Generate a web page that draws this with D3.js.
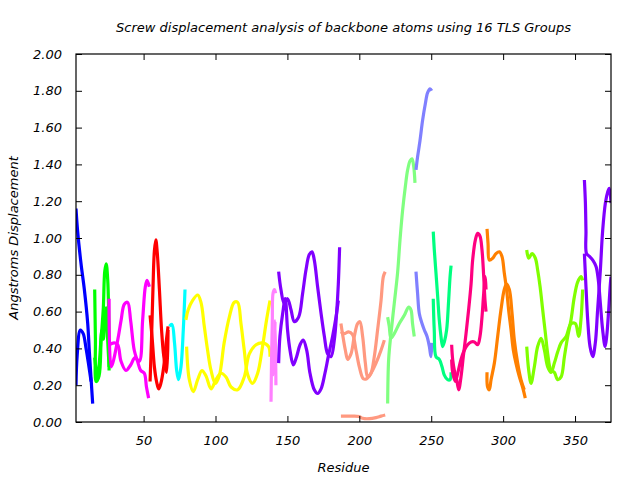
<!DOCTYPE html>
<head>
  <meta charset="utf-8">
  <script src="https://d3js.org/d3.v7.min.js"></script>
  <style>
    body { margin:0; background:#fff; }
    text { font-family: "DejaVu Sans", sans-serif; font-style: italic; font-size: 13px; fill: #000; }
  </style>
</head>
<body>
  <div class="chart"></div>
  <script>
    // chart texts and tick values
    const title = 'Screw displacement analysis of backbone atoms using 16 TLS Groups';
    const xLabel = 'Residue';
    const yLabel = 'Angstroms Displacement';
    const xTicks = [50, 100, 150, 200, 250, 300, 350];
    const yTicks = [0, 0.2, 0.4, 0.6, 0.8, 1.0, 1.2, 1.4, 1.6, 1.8, 2.0];

    // one colour per TLS group
    const groupColors = ['#0000ff', '#00ff00', '#ff00ff', '#ff0000', '#00ffff', '#ffff00', '#ff80ff', '#8000ff',
                         '#ff9980', '#80ff80', '#8080ff', '#00ff80', '#ff0080', '#ff8000', '#80ff00', '#8000ff'];

    // [residue, displacement], two or three curves per group
    const g1a = [[3,1.16],[4.1,1.04],[6.5,0.86],[8.8,0.72],[11.1,0.54],[12.3,0.38],[14.6,0.10]];
    const g1b = [[3,0.20],[3.8,0.36],[6,0.50],[8,0.48],[10,0.40],[12,0.30],[13.5,0.22]];
    const g2a = [[16,0.72],[16.5,0.45],[17,0.22],[19,0.25],[20.5,0.45],[22,0.62],[23,0.82],[24,0.86],[25,0.78],[25.7,0.60],[26,0.28]];
    const g2b = [[16,0.35],[18,0.24],[19.5,0.35],[21,0.50],[22,0.45],[23,0.55],[24,0.62],[25,0.45],[26,0.30]];
    const g3a = [[26,0.67],[27.5,0.30],[32,0.445],[34.3,0.55],[36.6,0.64],[38.9,0.65],[41,0.55],[43.5,0.39],[45.8,0.33],[48,0.28],[50.5,0.265],[52,0.19],[53.5,0.13]];
    const g3b = [[26,0.42],[29.6,0.43],[32,0.42],[34.3,0.33],[37.7,0.28],[41,0.31],[44,0.35],[47,0.33],[49.3,0.55],[51.2,0.735],[52.4,0.77],[54,0.735]];
    const g4a = [[54.5,0.22],[55.5,0.45],[56.5,0.72],[57.5,0.93],[58.5,0.99],[59.5,0.92],[61,0.72],[62.5,0.50],[64,0.36],[66,0.27],[67,0.50]];
    const g4b = [[54.5,0.58],[56,0.45],[57.5,0.30],[59,0.22],[60.5,0.18],[62,0.21],[64,0.30],[65.5,0.42],[67,0.52]];
    const g5a = [[68,0.52],[69.7,0.53],[71.5,0.43],[73,0.28],[74.3,0.23],[76,0.30],[77.6,0.50],[78.8,0.72]];
    const g6a = [[79.4,0.555],[81,0.61],[84,0.66],[87.6,0.69],[89.9,0.65],[92.2,0.52],[94.5,0.39],[96.9,0.28],[99.9,0.21],[102.6,0.25],[106,0.43],[109.6,0.57],[113,0.65],[115.4,0.65],[117.7,0.535],[120,0.39],[122.3,0.26],[125.8,0.21],[129.3,0.265],[132.7,0.41],[135.5,0.555],[137.9,0.66]];
    const g6b = [[79.9,0.41],[81.8,0.23],[84.6,0.165],[87.6,0.23],[90.6,0.28],[93.4,0.25],[96.9,0.18],[100.3,0.23],[103.8,0.265],[107.3,0.245],[110.8,0.19],[115.4,0.175],[120,0.245],[123.5,0.37],[128.2,0.42],[132.7,0.43],[136.9,0.41],[137.9,0.355]];
    const g7a = [[138.6,0.11],[139,0.35],[139.5,0.55],[140,0.70],[141,0.72],[141.8,0.70]];
    const g7b = [[139.5,0.25],[140.5,0.30],[141.5,0.55],[142,0.20]];
    const g8a = [[143.9,0.817],[145.5,0.72],[147.8,0.645],[150.1,0.67],[152.5,0.61],[154.8,0.545],[157.8,0.57],[160.6,0.70],[162.9,0.826],[165.2,0.91],[167.1,0.925],[168.7,0.88],[171,0.735],[173.4,0.59],[175.7,0.465],[178,0.37],[180.3,0.355],[182.6,0.445],[184.2,0.59],[185.4,0.75],[186.3,0.95]];
    const g8b = [[143.9,0.32],[144.8,0.465],[146.7,0.59],[148.5,0.67],[150.1,0.50],[151.8,0.39],[154.1,0.31],[156.4,0.355],[158.8,0.42],[161,0.445],[163.4,0.39],[165.7,0.265],[168.7,0.175],[171,0.155],[173.4,0.18],[176.1,0.265],[178.4,0.355],[181.4,0.465],[183.8,0.57],[185.4,0.66]];
    const g9a = [[187.2,0.535],[188.3,0.48],[190.3,0.39],[191.9,0.34],[194.2,0.37],[196.5,0.465],[198.8,0.535],[200.4,0.545],[202.3,0.465],[204.2,0.32],[205.8,0.245],[208.1,0.265],[210.4,0.355],[212.7,0.50],[215.1,0.66],[216.7,0.79],[218,0.817]];
    const g9b = [[187.2,0.49],[189.5,0.48],[192.5,0.49],[195.3,0.475],[197.7,0.39],[200,0.30],[202.8,0.235],[205.1,0.235],[208.1,0.265],[211.6,0.32],[215.1,0.39],[217.4,0.445]];
    const g9c = [[187.2,0.032],[194.2,0.032],[200,0.03],[202.3,0.02],[207,0.018],[211.6,0.024],[215.1,0.032],[218,0.038]];
    const g10a = [[219.7,0.10],[220.4,0.34],[222,0.48],[224.3,0.645],[226.6,0.81],[228.3,0.99],[230.1,1.15],[232,1.28],[233.6,1.37],[235.3,1.42],[236.6,1.43],[237.8,1.39],[238.7,1.30]];
    const g10b = [[219.7,0.57],[220.8,0.52],[222,0.455],[224.3,0.48],[227.8,0.535],[231.3,0.58],[234.3,0.625],[235.9,0.61],[237,0.535],[238.2,0.465]];
    const g11a = [[239.4,1.37],[240.5,1.44],[242.2,1.53],[244,1.64],[245.9,1.73],[247.5,1.79],[249.2,1.81],[250.3,1.80]];
    const g11b = [[239.4,0.817],[240.5,0.70],[241.7,0.59],[243.6,0.535],[245.2,0.50],[247.1,0.465],[248.7,0.41],[249.8,0.355],[250.5,0.43]];
    const g12a = [[251.4,1.035],[252.1,0.94],[253.3,0.81],[254.5,0.68],[255.6,0.555],[256.8,0.465],[257.9,0.41],[259.1,0.435],[260.7,0.50],[262.1,0.66],[263.1,0.79],[263.8,0.85]];
    const g12b = [[251.4,0.67],[252.1,0.50],[253.3,0.355],[255.6,0.34],[257.5,0.30],[259.1,0.255],[261.4,0.23],[263.1,0.23],[263.8,0.27]];
    const g13a = [[264.2,0.42],[264.9,0.34],[266.1,0.28],[267.7,0.23],[269.1,0.175],[270.7,0.245],[272.3,0.355],[274.2,0.48],[276,0.61],[277.7,0.75],[278.8,0.88],[280.7,0.99],[282.3,1.025],[283.9,1.01],[285.3,0.935],[286.5,0.79],[287.4,0.66],[288.1,0.60]];
    const g13b = [[264.2,0.34],[264.9,0.27],[266.7,0.22],[268.4,0.265],[270.7,0.34],[273,0.39],[275.3,0.42],[277.7,0.435],[280,0.435],[282.3,0.42],[283.9,0.465],[285.3,0.57],[286.5,0.70],[287.6,0.79],[288.1,0.72]];
    const g14a = [[288.8,1.05],[289.5,0.97],[290.4,0.88],[292.7,0.89],[295,0.915],[297.4,0.925],[299.2,0.90],[300.8,0.81],[302.4,0.72],[303.8,0.61],[305.5,0.50],[307.1,0.39],[308.9,0.32],[311.3,0.245],[313.5,0.19],[315.4,0.13]];
    const g14b = [[288.8,0.27],[289.2,0.19],[290.4,0.175],[291.6,0.23],[293.9,0.32],[296.2,0.465],[298.5,0.61],[300.8,0.72],[302.4,0.75],[304.3,0.72],[306.2,0.59],[307.8,0.445],[310.1,0.32],[312.4,0.23],[314.7,0.175]];
    const g15a = [[316.4,0.935],[317.8,0.89],[320.1,0.915],[322.4,0.89],[324,0.826],[325.7,0.735],[327.5,0.61],[329.4,0.48],[331,0.37],[333.3,0.28],[335.6,0.27],[337.9,0.23],[340.3,0.245],[342.6,0.355],[344.9,0.465],[347.2,0.555],[349.5,0.68],[351.8,0.76],[354.1,0.79],[355.3,0.77]];
    const g15b = [[316.4,0.41],[317.8,0.28],[319.4,0.21],[321.7,0.30],[324,0.41],[326.4,0.455],[328.7,0.39],[331,0.30],[333.3,0.27],[335.6,0.32],[337.9,0.38],[340.3,0.43],[343.8,0.465],[347.2,0.535],[350.2,0.535],[352.5,0.465],[354.1,0.555],[355.3,0.72]];
    const g16a = [[356.5,1.315],[357.2,1.19],[357.6,1.04],[358,0.915],[360,0.90],[362.3,0.88],[364.6,0.845],[366.2,0.77],[367.6,0.645],[369.2,0.50],[370.9,0.41],[372,0.465],[373.4,0.61],[374.4,0.735],[375,0.79]];
    const g16b = [[356.5,0.915],[357.6,0.735],[358.8,0.555],[360.4,0.41],[362.3,0.355],[364.1,0.43],[365.7,0.61],[367.6,0.826],[369.2,1.04],[371.1,1.19],[372.7,1.25],[373.8,1.27],[375,1.19]];

    const groups = [
      [g1a, g1b], [g2a, g2b], [g3a, g3b], [g4a, g4b], [g5a], [g6a, g6b], [g7a, g7b], [g8a, g8b],
      [g9a, g9b, g9c], [g10a, g10b], [g11a, g11b], [g12a, g12b], [g13a, g13b], [g14a, g14b], [g15a, g15b], [g16a, g16b]
    ];

    const width = 640, height = 480;
    const margin = { top: 54, right: 29, bottom: 58, left: 76 };
    const innerW = width - margin.left - margin.right;
    const innerH = height - margin.top - margin.bottom;

    const svg = d3.select('.chart')
      .append('svg')
        .attr('width', width)
        .attr('height', height);

    const xScale = d3.scaleLinear().domain([3, 375]).range([0, innerW]);
    const yScale = d3.scaleLinear().domain([0, 2]).range([innerH, 0]);

    const g = svg.append('g')
      .attr('transform', `translate(${margin.left},${margin.top})`);

    g.append('clipPath').attr('id', 'plot-clip')
      .append('rect').attr('width', innerW).attr('height', innerH);

    const line = d3.line()
      .x(d => xScale(d[0]))
      .y(d => yScale(d[1]))
      .curve(d3.curveCatmullRom.alpha(0.5));

    const plot = g.append('g').attr('clip-path', 'url(#plot-clip)');
    groups.forEach((curves, i) => {
      plot.selectAll(null)
        .data(curves)
        .enter()
        .append('path')
          .attr('d', line)
          .style('fill', 'none')
          .style('stroke', groupColors[i])
          .style('stroke-width', 3.2)
          .style('stroke-linejoin', 'round');
    });

    // axes with inward ticks, mirrored on top and right
    const fmt = d3.format('.2f');
    const axisStyle = a => {
      a.select('.domain').remove();
      a.selectAll('line').attr('stroke', '#000');
      a.selectAll('text').style('font-family', '"DejaVu Sans", sans-serif').style('font-size', '13px').style('font-style', 'italic');
    };

    g.append('g')
      .attr('transform', `translate(0,${innerH})`)
      .call(d3.axisBottom(xScale).tickValues(xTicks).tickSizeInner(-6).tickPadding(14))
      .call(axisStyle);
    g.append('g')
      .call(d3.axisTop(xScale).tickValues(xTicks).tickSizeInner(-6).tickFormat(''))
      .call(axisStyle);
    g.append('g')
      .call(d3.axisLeft(yScale).tickValues(yTicks).tickSizeInner(-6).tickPadding(14).tickFormat(fmt))
      .call(axisStyle);
    g.append('g')
      .attr('transform', `translate(${innerW},0)`)
      .call(d3.axisRight(yScale).tickValues(yTicks).tickSizeInner(-6).tickFormat(''))
      .call(axisStyle);

    g.append('rect')
      .attr('width', innerW)
      .attr('height', innerH)
      .style('fill', 'none')
      .style('stroke', '#000')
      .style('stroke-width', 1.2);

    svg.append('text')
      .attr('x', margin.left + innerW / 2)
      .attr('y', 32)
      .attr('text-anchor', 'middle')
      .text(title);

    svg.append('text')
      .attr('x', margin.left + innerW / 2)
      .attr('y', 472)
      .attr('text-anchor', 'middle')
      .text(xLabel);

    svg.append('text')
      .attr('transform', `translate(18,${margin.top + innerH / 2}) rotate(-90)`)
      .attr('text-anchor', 'middle')
      .text(yLabel);
  </script>
</body>
</html>
